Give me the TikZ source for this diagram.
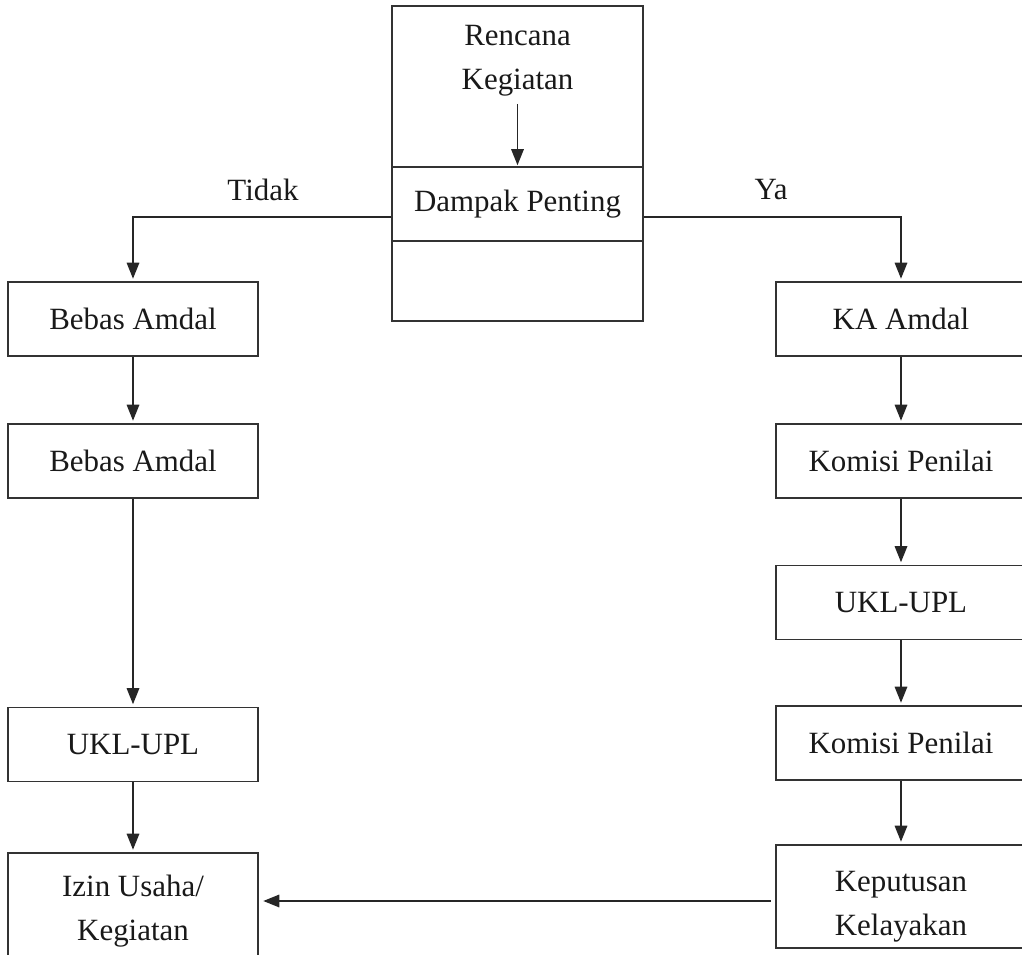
\documentclass[tikz,border=0pt]{standalone}
\usepackage{fontspec}
\setmainfont{Liberation Serif}
\usetikzlibrary{arrows.meta}
\begin{document}
\begin{tikzpicture}[x=0.02cm, y=-0.02cm,
  every node/.style={text=black!90, font=\fontsize{17.6}{25}\selectfont},
  box/.style={draw=black!80, line width=0.9pt, minimum width=5cm, minimum height=1.48cm, inner sep=0pt, align=center},
  part/.style={draw=black!80, line width=0.9pt, minimum width=5.02cm, inner sep=0pt, align=center},
  conn/.style={draw=black!85, line width=0.9pt},
  arr/.style={conn, -{Triangle[length=0.32cm, width=0.25cm]}, shorten >=0.05cm},
  lbl/.style={inner sep=0pt, align=center}]
\useasboundingbox (0,0) rectangle (1022,955);
\clip (0,0) rectangle (1022,955);
% central column
\node[part, minimum height=3.22cm] (top) at (517.5,86.5) {};
\node[part, minimum height=1.48cm] (dampak) at (517.5,204) {Dampak Penting};
\node[part, minimum height=1.6cm] (bot) at (517.5,281) {};
\node[lbl] (renc) at (517.5,60.5) {Rencana\\Kegiatan};
\coordinate (rk) at (517.5,104);
\draw[arr, shorten >=0.02cm] (rk) -- (dampak.north);
% left column
\node[box] (b1) at (133,319) {Bebas Amdal};
\node[box] (b2) at (133,461) {Bebas Amdal};
\node[box] (ukl1) at (133,744.5) {UKL-UPL};
\node[box, minimum height=2.06cm] (izin) at (133,904.5) {};
\node[lbl] (izint) at (133,911.5) {Izin Usaha/\\Kegiatan};
% right column
\node[box] (ka) at (901,319) {KA Amdal};
\node[box] (kom1) at (901,461) {Komisi Penilai};
\node[box] (ukl2) at (901,602.5) {UKL-UPL};
\node[box] (kom2) at (901,743) {Komisi Penilai};
\node[box, minimum height=2.06cm] (kep) at (901,896.5) {};
\node[lbl] (kept) at (901,906.5) {Keputusan\\Kelayakan};
% labels
\node[lbl] (tidak) at (263,190) {Tidak};
\node[lbl] (ya) at (771,190) {Ya};
% connectors
\coordinate (ly) at (0,217);
\draw[arr] (dampak.west |- ly) -| (b1.north);
\draw[arr] (dampak.east |- ly) -| (ka.north);
\draw[arr] (b1) -- (b2);
\draw[arr] (b2) -- (ukl1);
\draw[arr] (ukl1) -- (izin);
\draw[arr] (ka) -- (kom1);
\draw[arr] (kom1) -- (ukl2);
\draw[arr] (ukl2) -- (kom2);
\draw[arr] (kom2) -- (kep);
\coordinate (ay) at (0,901);
\draw[arr, shorten <=0.09cm, shorten >=0.09cm] (kep.west |- ay) -- (izin.east |- ay);
\end{tikzpicture}
\end{document}
